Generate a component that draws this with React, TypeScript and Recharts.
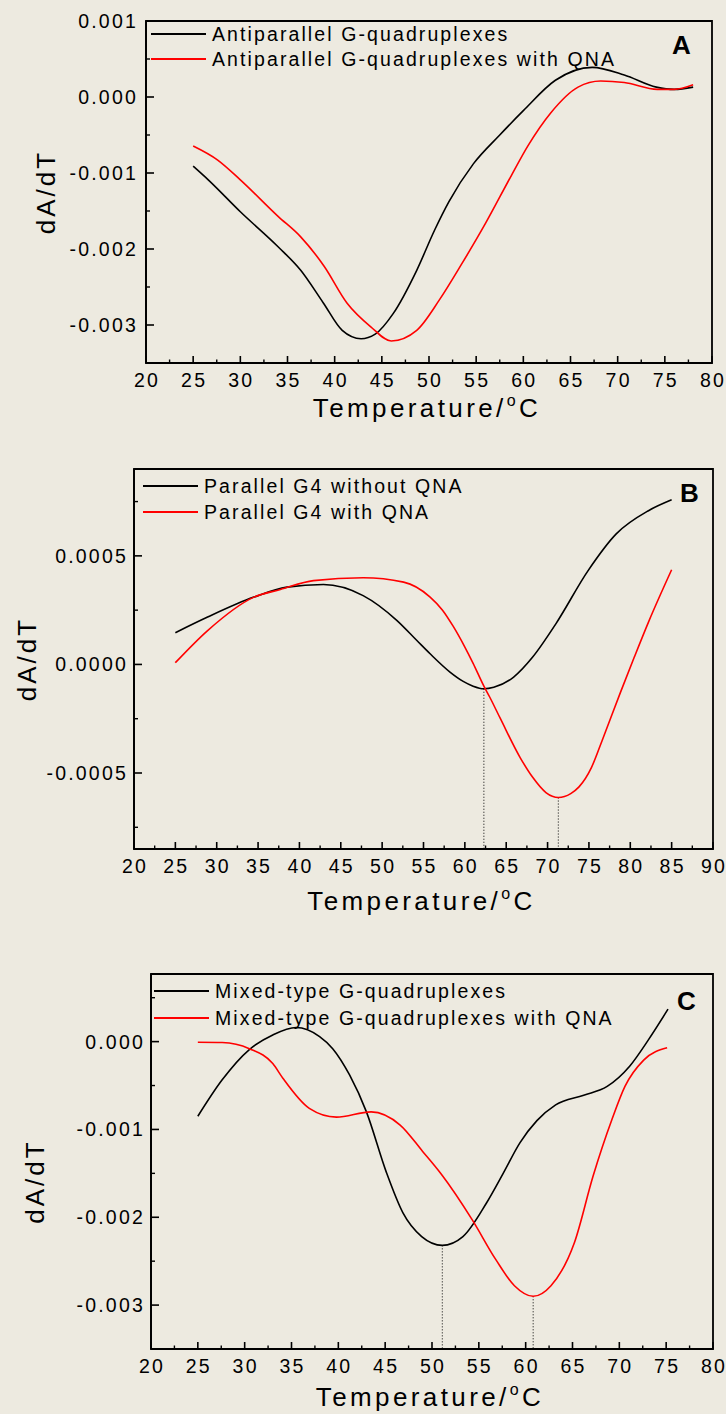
import React from 'react';
import { LineChart, Line, XAxis, YAxis, ReferenceArea, ReferenceLine } from 'recharts';

const FONT = '"Liberation Sans", Arial, Helvetica, sans-serif';
const BG = '#edeae0';

// Panel A: antiparallel G-quadruplexes
const tempA_free = [25, 26.6, 30, 34, 36.4, 38.8, 40.8, 42.8, 44.3, 46.2, 48.7, 50.6, 52.1, 54.7, 57.5, 60, 63.4, 67.3, 70.7, 74.1, 76, 78];
const dA_free = [-0.91e-3, -1.09e-3, -1.51e-3, -1.97e-3, -2.28e-3, -2.71e-3, -3.07e-3, -3.18e-3, -3.12e-3, -2.85e-3, -2.28e-3, -1.75e-3, -1.38e-3, -0.88e-3, -0.5e-3, -0.18e-3, 0.22e-3, 0.39e-3, 0.29e-3, 0.13e-3, 0.1e-3, 0.13e-3];
const tempA_qna = [25, 27.6, 30, 34, 36.4, 38.9, 41.3, 43.8, 46, 48.7, 51.1, 53.5, 56, 58.7, 60.5, 62.9, 65.8, 68.2, 70.7, 74.2, 76, 78];
const dA_qna = [-0.645e-3, -0.83e-3, -1.09e-3, -1.57e-3, -1.84e-3, -2.23e-3, -2.71e-3, -3.02e-3, -3.21e-3, -3.07e-3, -2.67e-3, -2.19e-3, -1.66e-3, -1.04e-3, -0.64e-3, -0.21e-3, 0.13e-3, 0.21e-3, 0.19e-3, 0.1e-3, 0.1e-3, 0.16e-3];

// Panel B: parallel G4
const tempB_free = [25, 28.9, 34.5, 38.5, 42.9, 47.7, 51.8, 54.2, 55.8, 58.2, 59.8, 61, 62.3, 63.5, 65.9, 68.2, 71, 74.9, 78.3, 82.2, 85];
const dB_free = [1.46e-4, 2.18e-4, 3.1e-4, 3.56e-4, 3.68e-4, 3.17e-4, 2.02e-4, 1.1e-4, 0.49e-4, -0.35e-4, -0.78e-4, -1.0e-4, -1.12e-4, -1.05e-4, -0.58e-4, 0.34e-4, 1.87e-4, 4.32e-4, 6.01e-4, 7.08e-4, 7.58e-4];
const tempB_qna = [25, 28.9, 34.5, 37.7, 41.7, 47.7, 52.6, 55.8, 57.3, 58.6, 60, 61, 62.3, 63, 64.3, 66.7, 68.2, 69.8, 71.3, 72.8, 73.8, 75.3, 76.6, 78.8, 80.5, 82.2, 85];
const dB_qna = [0.08e-4, 1.56e-4, 3.1e-4, 3.45e-4, 3.86e-4, 3.99e-4, 3.79e-4, 3.1e-4, 2.5e-4, 1.75e-4, 0.8e-4, 0.05e-4, -1.0e-4, -1.5e-4, -2.5e-4, -4.3e-4, -5.2e-4, -5.9e-4, -6.13e-4, -5.95e-4, -5.64e-4, -4.75e-4, -3.5e-4, -1.3e-4, 0.35e-4, 1.95e-4, 4.36e-4];

// Panel C: mixed-type G-quadruplexes
const tempC_free = [25, 27.6, 30.5, 33, 35.5, 38, 39.4, 41.2, 43, 45.1, 46.9, 48.9, 51.1, 53.3, 55.8, 57.6, 59.4, 61.2, 63.2, 66.2, 68.7, 71.1, 73.1, 75.2];
const dC_free = [-0.85e-3, -0.435e-3, -0.09e-3, 0.076e-3, 0.16e-3, 0.057e-3, -0.08e-3, -0.38e-3, -0.8e-3, -1.48e-3, -1.95e-3, -2.22e-3, -2.32e-3, -2.22e-3, -1.84e-3, -1.5e-3, -1.15e-3, -0.9e-3, -0.72e-3, -0.61e-3, -0.51e-3, -0.28e-3, 0.02e-3, 0.37e-3];
const tempC_qna = [25, 27.6, 30.5, 33, 34.1, 36.9, 39.8, 43.5, 46.6, 49, 51, 54.3, 56.8, 58.8, 60.8, 62.7, 65.2, 67.2, 69.2, 70.6, 72.6, 75.1];
const dC_qna = [-0.007e-3, -0.01e-3, -0.08e-3, -0.25e-3, -0.42e-3, -0.76e-3, -0.86e-3, -0.8e-3, -0.95e-3, -1.25e-3, -1.51e-3, -2.03e-3, -2.48e-3, -2.78e-3, -2.9e-3, -2.78e-3, -2.29e-3, -1.53e-3, -0.89e-3, -0.51e-3, -0.21e-3, -0.07e-3];

const ticks20to80 = [20, 25, 30, 35, 40, 45, 50, 55, 60, 65, 70, 75, 80];
const minor20to80 = [22.5, 27.5, 32.5, 37.5, 42.5, 47.5, 52.5, 57.5, 62.5, 67.5, 72.5, 77.5];
const ticks20to90 = [20, 25, 30, 35, 40, 45, 50, 55, 60, 65, 70, 75, 80, 85, 90];
const minor20to90 = [22.5, 27.5, 32.5, 37.5, 42.5, 47.5, 52.5, 57.5, 62.5, 67.5, 72.5, 77.5, 82.5, 87.5];

const yTicksA = [0.001, 0, -0.001, -0.002, -0.003];
const yMinorA = [0.0005, -0.0005, -0.0015, -0.0025];
const yTicksB = [0.0005, 0, -0.0005];
const yMinorB = [0.00075, 0.00025, -0.00025, -0.00075];
const yTicksC = [0, -0.001, -0.002, -0.003];
const yMinorC = [0.0005, -0.0005, -0.0015, -0.0025];

type Pt = { t: number; v: number };
const toPoints = (temps: number[], vals: number[]): Pt[] => temps.map((t, i) => ({ t, v: vals[i] }));
const minPoint = (pts: Pt[]) => pts.reduce((m, p) => (p.v < m.v ? p : m), pts[0]);
const isMajor = (v: number, majors: number[]) => majors.some((m) => Math.abs(m - v) < 1e-9);
const sorted = (a: number[], b: number[]) => [...a, ...b].sort((p, q) => p - q);

const tickText = { fill: '#000', fontSize: 19.5, fontFamily: FONT, letterSpacing: 2.2 };

// one axis carries both major and minor ticks; ticks point into the plot, labels only on majors
function XTick(props: any) {
  const { x, y, payload, majors, gap } = props;
  const axisY = y - gap;
  const major = isMajor(payload.value, majors);
  return (
    <g>
      <line x1={x} x2={x} y1={axisY} y2={axisY - (major ? 7 : 3.5)} stroke="#000" strokeWidth={major ? 1.6 : 1.4} />
      {major && (
        <text x={x + 1} y={y} dy="0.71em" textAnchor="middle" {...tickText}>
          {payload.value}
        </text>
      )}
    </g>
  );
}

function YTick(props: any) {
  const { x, y, payload, majors, gap, digits } = props;
  const axisX = x + gap;
  const major = isMajor(payload.value, majors);
  return (
    <g>
      <line x1={axisX} x2={axisX + (major ? 8 : 4)} y1={y} y2={y} stroke="#000" strokeWidth={major ? 1.6 : 1.4} />
      {major && (
        <text x={x + 2} y={y} dy="0.355em" textAnchor="end" {...tickText}>
          {Number(payload.value).toFixed(digits)}
        </text>
      )}
    </g>
  );
}

function XTitle(props: any) {
  const vb = props.viewBox || { x: 0, y: 0, width: 0 };
  const cx = vb.x + vb.width / 2 - 2;
  return (
    <text x={cx} y={vb.y + props.base} textAnchor="middle" fontSize={26} fontFamily={FONT} letterSpacing={3.4} fill="#000">
      Temperature/<tspan dy={-11} fontSize={16}>o</tspan><tspan dy={11}>C</tspan>
    </text>
  );
}

function YTitle(props: any) {
  const vb = props.viewBox || { x: 0, y: 0, height: 0 };
  const cx = props.cx;
  const cy = vb.y + vb.height / 2 + props.shift;
  return (
    <text x={cx} y={cy} transform={`rotate(-90, ${cx}, ${cy})`} textAnchor="middle" dominantBaseline="central"
      fontSize={26} fontFamily={FONT} letterSpacing={3} fill="#000">
      dA/dT
    </text>
  );
}

type PanelProps = {
  top: number; height: number; left: number; right: number; boxTop: number; axisH: number;
  xDomain: [number, number]; xTicks: number[]; xMinor: number[];
  yDomain: [number, number]; yTicks: number[]; yMinor: number[]; digits: number; yMargin: number;
  black: Pt[]; red: Pt[]; names: [string, string]; letter: string;
  letterX: number; letterTop: number; legendX: number; legendY: [number, number];
  yTitleX: number; yTitleShift: number; xTitleBase: number; drops: boolean;
};

function Panel(p: PanelProps) {
  const lineW = 1.8;
  return (
    <div style={{ position: 'absolute', left: 0, top: p.top, width: 726, height: p.height }}>
      <LineChart width={726} height={p.height} margin={{ top: p.boxTop, right: p.right, bottom: 0, left: 0 }}>
        <XAxis xAxisId="x" type="number" dataKey="t" domain={p.xDomain} ticks={sorted(p.xTicks, p.xMinor)} interval={0}
          allowDataOverflow height={p.axisH} tickSize={0} tickMargin={10} tickLine={false}
          axisLine={{ stroke: '#000', strokeWidth: lineW }}
          tick={(tp: any) => <XTick {...tp} majors={p.xTicks} gap={10} />}
          label={<XTitle base={p.xTitleBase} />} />
        <YAxis yAxisId="y" type="number" domain={p.yDomain} ticks={sorted(p.yTicks, p.yMinor)} interval={0}
          allowDataOverflow width={p.left} tickSize={0} tickMargin={p.yMargin} tickLine={false}
          axisLine={{ stroke: '#000', strokeWidth: lineW }}
          tick={(tp: any) => <YTick {...tp} majors={p.yTicks} gap={p.yMargin} digits={p.digits} />}
          label={<YTitle cx={p.yTitleX} shift={p.yTitleShift} />} />
        <ReferenceArea xAxisId="x" yAxisId="y" x1={p.xDomain[0]} x2={p.xDomain[1]} y1={p.yDomain[0]} y2={p.yDomain[1]}
          fill="none" fillOpacity={0} stroke="#000" strokeWidth={lineW} />
        {p.drops && [p.black, p.red].map((s, i) => {
          const m = minPoint(s);
          return (
            <ReferenceLine key={i} xAxisId="x" yAxisId="y" segment={[{ x: m.t, y: m.v }, { x: m.t, y: p.yDomain[0] }]}
              stroke="#000" strokeWidth={1} strokeDasharray="1 2" />
          );
        })}
        <Line xAxisId="x" yAxisId="y" data={p.black} dataKey="v" type="monotone" stroke="#000" strokeWidth={1.6}
          dot={false} activeDot={false} isAnimationActive={false} />
        <Line xAxisId="x" yAxisId="y" data={p.red} dataKey="v" type="monotone" stroke="#ff0000" strokeWidth={1.6}
          dot={false} activeDot={false} isAnimationActive={false} />
      </LineChart>
      {p.names.map((name, i) => (
        <React.Fragment key={name}>
          <div style={{ position: 'absolute', left: p.legendX, top: p.legendY[i] - 1, width: 55, height: 2, background: i === 0 ? '#000' : '#ff0000' }} />
          <div style={{ position: 'absolute', left: p.legendX + 61, top: p.legendY[i] - 11, lineHeight: '22px', fontSize: 19.5, letterSpacing: 2.1, fontFamily: FONT, color: '#000', whiteSpace: 'nowrap' }}>
            {name}
          </div>
        </React.Fragment>
      ))}
      <div style={{ position: 'absolute', left: p.letterX, top: p.letterTop, lineHeight: '26px', fontSize: 26, fontWeight: 'bold', fontFamily: FONT, color: '#000' }}>
        {p.letter}
      </div>
    </div>
  );
}

export default function App() {
  return (
    <div style={{ position: 'absolute', left: 0, top: 0, width: 726, height: 1414, background: BG, overflow: 'hidden' }}>
      <Panel top={0} height={440} left={146} right={14} boxTop={21} axisH={77}
        xDomain={[20, 80]} xTicks={ticks20to80} xMinor={minor20to80}
        yDomain={[-0.0035, 0.001]} yTicks={yTicksA} yMinor={yMinorA} digits={3} yMargin={10}
        black={toPoints(tempA_free, dA_free)} red={toPoints(tempA_qna, dA_qna)}
        names={['Antiparallel G-quadruplexes', 'Antiparallel G-quadruplexes with QNA']} letter="A"
        letterX={672} letterTop={32} legendX={151} legendY={[34, 59]}
        yTitleX={46} yTitleShift={0} xTitleBase={54} drops={false} />
      <Panel top={440} height={490} left={134} right={13} boxTop={29} axisH={81}
        xDomain={[20, 90]} xTicks={ticks20to90} xMinor={minor20to90}
        yDomain={[-0.00085, 0.0009]} yTicks={yTicksB} yMinor={yMinorB} digits={4} yMargin={8}
        black={toPoints(tempB_free, dB_free)} red={toPoints(tempB_qna, dB_qna)}
        names={['Parallel G4 without QNA', 'Parallel G4 with QNA']} letter="B"
        letterX={680} letterTop={40} legendX={143} legendY={[46, 72]}
        yTitleX={27} yTitleShift={0} xTitleBase={61} drops={true} />
      <Panel top={930} height={484} left={151} right={13} boxTop={44} axisH={65}
        xDomain={[20, 80]} xTicks={ticks20to80} xMinor={minor20to80}
        yDomain={[-0.0035, 0.00077]} yTicks={yTicksC} yMinor={yMinorC} digits={3} yMargin={8}
        black={toPoints(tempC_free, dC_free)} red={toPoints(tempC_qna, dC_qna)}
        names={['Mixed-type G-quadruplexes', 'Mixed-type G-quadruplexes with QNA']} letter="C"
        letterX={677} letterTop={58} legendX={154} legendY={[61, 88]}
        yTitleX={35} yTitleShift={20} xTitleBase={57} drops={true} />
    </div>
  );
}
